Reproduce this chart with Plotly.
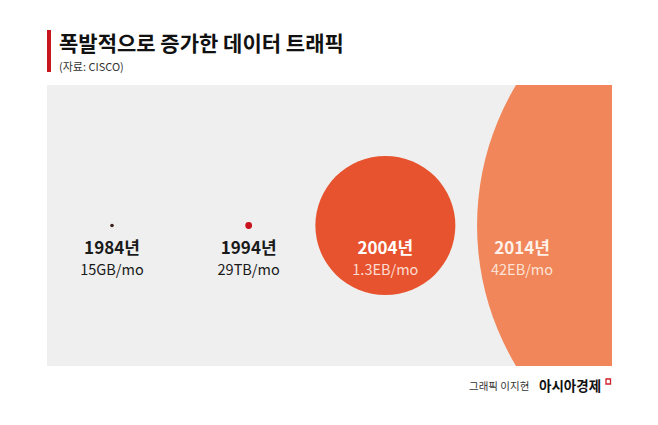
import plotly.graph_objects as go

# ---- data ----
years = [1984, 1994, 2004, 2014]
year_labels = ["1984년", "1994년", "2004년", "2014년"]
traffic_labels = ["15GB/mo", "29TB/mo", "1.3EB/mo", "42EB/mo"]
title_text = "폭발적으로 증가한 데이터 트래픽"
source_text = "(자료: CISCO)"
credit_text = "그래픽 이지현"
brand_text = "아시아경제"

# ---- styles ----
W, H = 658, 425
L, R, T, B = 47, 612, 85, 366          # panel (plot area) in page pixels
circle_colors = ["#3a1f1f", "#c8141e", "#e8532f", "#f08659"]
# pixel extents of each circle relative to its year anchor: (x0, x1, radius_y)
circle_px = [(-1.8, 1.8, 1.8), (-3.4, 3.4, 3.4), (-70, 70, 69.5), (-45, 500, 272.6)]
year_colors = ["#1a1a1a", "#1a1a1a", "#ffffff", "#fff1ea"]
value_colors = ["#1a1a1a", "#1a1a1a", "#fbdcd0", "#fde2d5"]
KFONT = "Noto Sans CJK KR"

def px(x):
    return (x - L) / (R - L)

def py(y):
    return (B - y) / (B - T)

fig = go.Figure()

shapes = []
for yr, col, (x0, x1, ry) in zip(years, circle_colors, circle_px):
    shapes.append(dict(
        type="circle", xref="x", yref="y",
        xsizemode="pixel", ysizemode="pixel",
        xanchor=yr, yanchor=0,
        x0=x0, x1=x1, y0=-ry, y1=ry,
        fillcolor=col, line=dict(width=0), layer="below",
    ))

# red title bar
shapes.append(dict(type="rect", xref="paper", yref="paper",
                   x0=px(47), x1=px(51), y0=py(72), y1=py(30),
                   fillcolor="#c8161e", line=dict(width=0)))
# small brand mark
shapes.append(dict(type="rect", xref="paper", yref="paper",
                   x0=px(606), x1=px(610.5), y0=py(384), y1=py(379),
                   fillcolor="rgba(0,0,0,0)", line=dict(width=1.3, color="#d0202a")))

fig.add_trace(go.Scatter(
    x=years, y=[24.5] * len(years), mode="text", text=year_labels,
    textfont=dict(family=KFONT, size=17, color=year_colors, weight="bold"),
    hoverinfo="skip", showlegend=False, cliponaxis=False,
))
fig.add_trace(go.Scatter(
    x=years, y=[46] * len(years), mode="text", text=traffic_labels,
    textfont=dict(family=KFONT, size=14.5, color=value_colors),
    hoverinfo="skip", showlegend=False, cliponaxis=False,
))

annotations = [
    dict(text=f"<b>{title_text}</b>", x=px(57), y=py(42), xref="paper", yref="paper",
         xanchor="left", yanchor="middle", showarrow=False,
         font=dict(family=KFONT, size=21, color="#111111")),
    dict(text=source_text, x=px(57), y=py(65.5), xref="paper", yref="paper",
         xanchor="left", yanchor="middle", showarrow=False,
         font=dict(family=KFONT, size=11, color="#333333")),
    dict(text=credit_text, x=px(531), y=py(385), xref="paper", yref="paper",
         xanchor="right", yanchor="middle", showarrow=False,
         font=dict(family=KFONT, size=10.5, color="#333333")),
    dict(text=f"<b>{brand_text}</b>", x=px(603), y=py(385), xref="paper", yref="paper",
         xanchor="right", yanchor="middle", showarrow=False,
         font=dict(family=KFONT, size=13.5, color="#111111")),
]

fig.update_layout(
    width=W, height=H,
    margin=dict(l=L, r=W - R, t=T, b=H - B, pad=0),
    paper_bgcolor="#ffffff", plot_bgcolor="#efefef",
    xaxis=dict(range=[1979.245, 2020.58], visible=False, fixedrange=True),
    yaxis=dict(range=[140.5, -140.5], visible=False, fixedrange=True),
    shapes=shapes, annotations=annotations,
    showlegend=False,
)

fig.write_html("out.html", config={"displayModeBar": False},
               post_script="document.body.style.margin='0';")
